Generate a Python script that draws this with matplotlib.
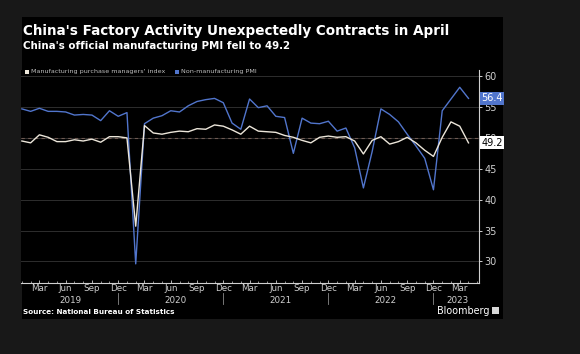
import matplotlib
matplotlib.use("Agg")
import matplotlib.pyplot as plt
from matplotlib.patches import Rectangle

# Monthly data, Jan 2019 - Apr 2023
manufacturing = [49.5, 49.2, 50.5, 50.1, 49.4, 49.4, 49.7, 49.5, 49.8, 49.3, 50.2, 50.2,
                 50.0, 35.7, 52.0, 50.8, 50.6, 50.9, 51.1, 51.0, 51.5, 51.4, 52.1, 51.9,
                 51.3, 50.6, 51.9, 51.1, 51.0, 50.9, 50.4, 50.1, 49.6, 49.2, 50.1, 50.3,
                 50.1, 50.2, 49.5, 47.4, 49.6, 50.2, 49.0, 49.4, 50.1, 49.2, 48.0, 47.0,
                 50.1, 52.6, 51.9, 49.2]
non_manufacturing = [54.7, 54.3, 54.8, 54.3, 54.3, 54.2, 53.7, 53.8, 53.7, 52.8, 54.4, 53.5,
                     54.1, 29.6, 52.3, 53.2, 53.6, 54.4, 54.2, 55.2, 55.9, 56.2, 56.4, 55.7,
                     52.4, 51.4, 56.3, 54.9, 55.2, 53.5, 53.3, 47.5, 53.2, 52.4, 52.3, 52.7,
                     51.1, 51.6, 48.4, 41.9, 47.8, 54.7, 53.8, 52.6, 50.6, 48.7, 46.7, 41.6,
                     54.4, 56.3, 58.2, 56.4]
month_labels = ["Mar", "Jun", "Sep", "Dec"]
years = ["2019", "2020", "2021", "2022", "2023"]
y_ticks = [30, 35, 40, 45, 50, 55, 60]

W, H = 580, 354
fig = plt.figure(figsize=(W / 100, H / 100), dpi=100)
fig.patch.set_facecolor("#181818")

def fx(px):
    return px / W

def fy(py):
    return 1 - py / H

# black panel
panel = Rectangle((fx(22), fy(319)), fx(503) - fx(22), fy(17) - fy(319),
                  transform=fig.transFigure, facecolor="black", edgecolor="none", zorder=-5)
fig.patches.append(panel)

ax = fig.add_axes([fx(21), fy(283), fx(479) - fx(21), fy(70) - fy(283)])
ax.set_facecolor("black")

x = list(range(len(manufacturing)))
ax.set_xlim(-0.1, 52.2)
ax.set_ylim(26.5, 61)

for v in y_ticks:
    ax.axhline(v, color="#2e2e2e", lw=0.7, zorder=1)
ax.axhline(50, color="#6e5a52", lw=0.8, ls=(0, (3, 3)), zorder=2)

blue = "#5175cc"
white = "#ece6da"
ax.plot(x, non_manufacturing, color=blue, lw=1.0, zorder=3)
ax.plot(x, manufacturing, color=white, lw=1.0, zorder=4)

for s in ["top", "left"]:
    ax.spines[s].set_visible(False)
ax.spines["right"].set_color("#d0d0d0")
ax.spines["bottom"].set_color("#d0d0d0")
ax.spines["right"].set_linewidth(0.8)
ax.spines["bottom"].set_linewidth(0.8)

ax.yaxis.tick_right()
ax.set_yticks(y_ticks)
ax.set_yticklabels([str(v) for v in y_ticks])
ax.tick_params(axis="y", colors="#d0d0d0", labelsize=7, length=2.5, width=0.7, pad=1.5, labelcolor="#cfcfcf")

# x ticks: every 3 months (Mar, Jun, Sep, Dec)
tick_pos = list(range(2, 52, 3))
tick_lab = [month_labels[i % 4] for i in range(len(tick_pos))]
ax.set_xticks(tick_pos)
ax.set_xticklabels(tick_lab)
ax.set_xticks(list(range(0, 53)), minor=True)
ax.tick_params(axis="x", which="major", colors="#d0d0d0", labelsize=6.3, length=2.5, width=0.6,
               direction="in", pad=1, labelcolor="#cfcfcf")
ax.tick_params(axis="x", which="minor", colors="#d0d0d0", length=1.2, width=0.5, direction="in")

# year labels and separators
year_centers = [5.5, 17.5, 29.5, 41.5, 49.8]
for yc, yl in zip(year_centers, years):
    ax.text(yc, -0.08, yl, transform=ax.get_xaxis_transform(), ha="center", va="center",
            fontsize=6.3, color="#cfcfcf")
for sep in [11, 23, 35, 47]:
    ax.plot([sep, sep], [-0.047, -0.1], transform=ax.get_xaxis_transform(), color="#8a8a8a",
            lw=0.6, clip_on=False)

# last-value labels
ax.text(1.005, 56.4, "56.4", transform=ax.get_yaxis_transform(), ha="left", va="center",
        fontsize=7, color="white", zorder=10,
        bbox=dict(boxstyle="square,pad=0.15", facecolor=blue, edgecolor="none"))
ax.text(1.005, 49.2, "49.2", transform=ax.get_yaxis_transform(), ha="left", va="center",
        fontsize=7, color="black", zorder=10,
        bbox=dict(boxstyle="square,pad=0.15", facecolor="white", edgecolor="none"))

# titles
fig.text(fx(23), fy(31), "China's Factory Activity Unexpectedly Contracts in April",
         fontsize=9.75, fontweight="bold", color="white", va="center", ha="left")
fig.text(fx(23), fy(46), "China's official manufacturing PMI fell to 49.2",
         fontsize=7.35, fontweight="bold", color="white", va="center", ha="left")

# legend
fig.patches.append(Rectangle((fx(25), fy(73.5)), fx(4), fy(0) - fy(4), transform=fig.transFigure,
                             facecolor=white, edgecolor="none"))
fig.text(fx(31), fy(71.5), "Manufacturing purchase managers' index", fontsize=4.6,
         color="#bdbdbd", va="center", ha="left")
fig.patches.append(Rectangle((fx(175), fy(73.5)), fx(4), fy(0) - fy(4), transform=fig.transFigure,
                             facecolor=blue, edgecolor="none"))
fig.text(fx(181), fy(71.5), "Non-manufacturing PMI", fontsize=4.6,
         color="#bdbdbd", va="center", ha="left")

# footer
fig.text(fx(23), fy(312), "Source: National Bureau of Statistics", fontsize=5.2,
         fontweight="bold", color="white", va="center", ha="left")
fig.text(fx(489), fy(311), "Bloomberg", fontsize=6.9, color="white", va="center", ha="right")
fig.patches.append(Rectangle((fx(492), fy(314)), fx(7), fy(0) - fy(7), transform=fig.transFigure,
                             facecolor="#d8d8d8", edgecolor="none"))

fig.savefig("out.png", dpi=100, facecolor=fig.get_facecolor())
